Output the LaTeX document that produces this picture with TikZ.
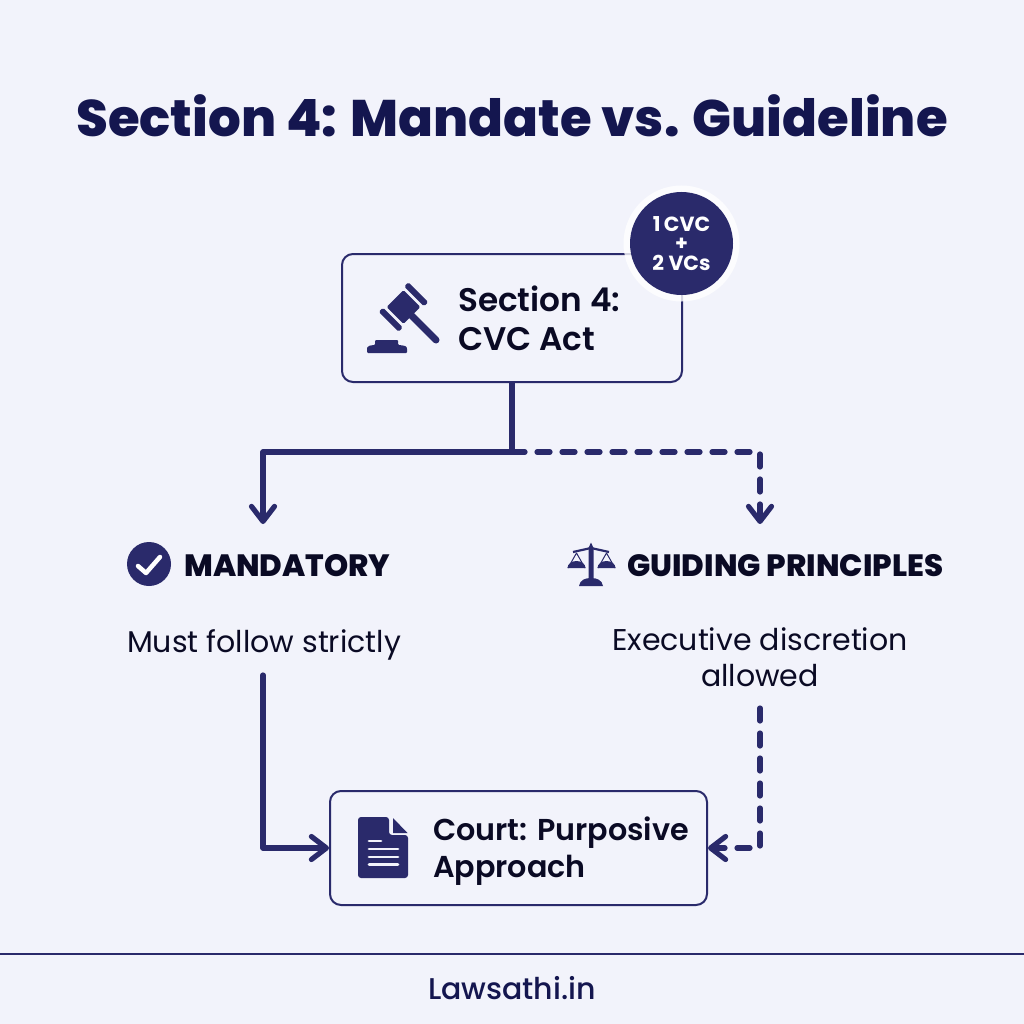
\documentclass[tikz,border=0pt]{standalone}
\usepackage{fontspec}
\setmainfont{Poppins}
\newfontface\pmed{Poppins Medium}
\newfontface\psemi{Poppins SemiBold}
\newfontface\pbold{Poppins Bold}
\newfontface\pxbold{Poppins ExtraBold}
\usetikzlibrary{arrows.meta,calc}
\definecolor{bgc}{HTML}{F2F3FB}
\definecolor{navy}{HTML}{2A2A6B}
\definecolor{titlec}{HTML}{14164F}
\definecolor{inkc}{HTML}{0A0A24}
\newcommand{\fs}[1]{\fontsize{#1}{#1}\selectfont}
\tikzset{
  x=1pt,y=-1pt,
  boxnode/.style={draw=navy,line width=2pt,rounded corners=11pt,fill=bgc,inner sep=0pt},
  conn/.style={draw=navy,line width=5.2pt,line join=round},
  solidconn/.style={conn,-{Straight Barb[length=15pt,width=23pt,line width=5.2pt,round]}},
  dashconn/.style={conn,line cap=round,dash pattern=on 13pt off 12pt,-{Straight Barb[length=15pt,width=23pt,line width=5.2pt,round]}},
  boxtext/.style={anchor=base west,inner sep=0pt,text=inkc,font=\psemi\fs{32.7}},
  courttext/.style={anchor=base west,inner sep=0pt,text=inkc,font=\psemi\fs{30.2}},
  headtext/.style={anchor=base west,inner sep=0pt,text=inkc,font=\pxbold\fs{30.8}},
  bodytext/.style={anchor=base,inner sep=0pt,text=inkc,font=\fs{30}},
  badgetext/.style={anchor=base,inner sep=0pt,text=white,font=\pbold\fs{20.5}},
}
\begin{document}
\begin{tikzpicture}
\useasboundingbox (0,0) rectangle (1024,1024);
\fill[bgc] (0,0) rectangle (1024,1024);
\node[anchor=base,inner sep=0pt,text=titlec,font=\pxbold\fs{51.4}] (title) at (512,137) {Section 4: Mandate vs. Guideline};

% boxes
\node[boxnode,minimum width=340pt,minimum height=128pt] (act) at (512,318) {};
\node[boxnode,minimum width=377pt,minimum height=114pt] (court) at (518.5,848) {};

% badge
\node[circle,fill=white,fill opacity=.8,minimum size=116pt,inner sep=0pt] (halo) at (681.5,243.5) {};
\node[circle,fill=navy,minimum size=103pt,inner sep=0pt] (badge) at (681.5,243.5) {};
\node[badgetext] (b1) at (681.5,231.5) {1\,CVC};
\node[badgetext] (b2) at (681.5,251) {+};
\node[badgetext] (b3) at (681.5,270) {2 VCs};

% texts
\node[boxtext] (t1) at (458,311) {Section 4:};
\node[boxtext] (t2) at (458,350) {CVC Act};
\node[courttext] (t3) at (433,840) {Court: Purposive};
\node[courttext] (t4) at (433,877) {Approach};
\node[headtext] (mand) at (184,576) {MANDATORY};
\node[headtext] (guide) at (627,576) {GUIDING PRINCIPLES};
\node[bodytext] (must) at (264,652) {Must follow strictly};
\node[bodytext] (exec) at (760,650) {Executive discretion};
\node[bodytext] (allow) at (760,686) {allowed};
\node[anchor=base,inner sep=0pt,text=titlec,font=\pmed\fs{30}] (foot) at (512,999) {Lawsathi.in};

% connectors
\coordinate (junction) at (512,452);
\coordinate (leftin) at (263,524);
\coordinate (rightin) at (760,524);
\coordinate (mustout) at (263,675);
\coordinate (allowout) at (760,708);
\draw[conn] (act.south) -- (junction);
\draw[solidconn] (junction) -| (leftin);
\draw[dashconn] (junction) -| (rightin);
\draw[solidconn,line cap=round] (mustout) |- (court.west);
\draw[dashconn] (allowout) |- (court.east);

% footer rule
\coordinate (ruleL) at (0,954);
\coordinate (ruleR) at (1024,954);
\draw[navy,line width=2pt] (ruleL) -- (ruleR);

% gavel
\begin{scope}[shift={(403.5,307)},rotate=45]
  \fill[navy,rounded corners=1.5pt] (-12,-12) rectangle (12,12);
  \fill[navy,rounded corners=1.5pt] (-21,-14) rectangle (-15,14);
  \fill[navy,rounded corners=1.5pt] (15,-14) rectangle (21,14);
\end{scope}
\draw[navy,line width=7pt,line cap=round] (403,307) -- (436,340);
\fill[navy,rounded corners=1pt] (367,353) -- (367,348) .. controls (368,346) and (371,345) .. (375,345) -- (375,340) -- (398,340) -- (398,345) .. controls (402,345) and (406,346) .. (407,348) -- (407,353) -- cycle;

% check
\fill[navy] (149,564) circle (22);
\draw[white,line width=4.5pt,line cap=round,line join=round] (138,566) -- (146,573) -- (160,557);

% scale
\draw[navy,line width=2.2pt,line join=round] (573,552) -- (591,548) -- (609,552);
\draw[navy,line width=1pt,line join=round] (568,568) -- (576.5,553) -- (585,568);
\draw[navy,line width=1pt,line join=round] (598,568) -- (606.5,553) -- (615,568);
\fill[navy] (567.5,568) arc[start angle=180,end angle=360,x radius=9,y radius=7] -- cycle;
\fill[navy] (597.5,568) arc[start angle=180,end angle=360,x radius=9,y radius=7] -- cycle;
\fill[navy] (588.5,548) -- (591,542.5) -- (593.5,548) -- (593.5,578) -- (588.5,578) -- cycle;
\fill[navy] (579,586) .. controls (580,580) and (585,578) .. (591,578) .. controls (597,578) and (602,580) .. (603,586) -- cycle;

% document
\fill[navy,rounded corners=3pt] (358,817) -- (389,817) -- (389,835) -- (408,835) -- (408,878) -- (358,878) -- cycle;
\fill[navy] (393,818) -- (407.5,833) -- (393,833) -- cycle;
\draw[bgc,line width=2.8pt,line cap=round] (369,841) -- (381,841);
\draw[bgc,line width=2.8pt,line cap=round] (369,849) -- (398,849);
\draw[bgc,line width=2.8pt,line cap=round] (369,857) -- (398,857);
\draw[bgc,line width=2.8pt,line cap=round] (369,864.5) -- (398,864.5);
\end{tikzpicture}
\end{document}
